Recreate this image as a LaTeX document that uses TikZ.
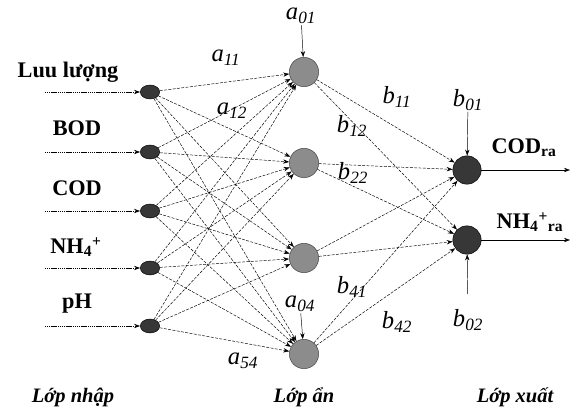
\documentclass[tikz,border=0pt]{standalone}
\usepackage{fontspec}
\setmainfont{Liberation Serif}
\usepackage{xcolor}
\usetikzlibrary{arrows.meta,positioning,shapes.geometric}
\definecolor{nodegrey}{RGB}{140,140,140}
\definecolor{nodedark}{RGB}{55,55,55}
\newcommand{\wt}[2]{\textit{#1}\textsubscript{\textit{#2}}}

\begin{document}
\begin{tikzpicture}[x=0.03cm,y=-0.03cm,>={Stealth[length=1.8mm,width=1.3mm]},font=\fontsize{16}{18}\selectfont]
  \useasboundingbox (0,0) rectangle (571,414);
  \tikzset{
    innode/.style={ellipse,fill=nodedark,draw=black,minimum width=0.58cm,minimum height=0.42cm,inner sep=0pt},
    hidnode/.style={circle,fill=nodegrey,draw=black!75,minimum size=0.88cm,inner sep=0pt},
    outnode/.style={circle,fill=nodedark,draw=black,minimum size=0.85cm,inner sep=0pt},
    link/.style={->,dash pattern=on 2.5pt off 1.2pt,thin},
    feed/.style={->,dash pattern=on 1pt off 0.6pt,semithick},
    lab/.style={font=\fontsize{19}{21}\selectfont\bfseries},
    wlab/.style={font=\fontsize{21}{23}\selectfont\itshape,inner sep=1pt},
    layer/.style={font=\fontsize{17.5}{20}\selectfont\bfseries\itshape}
  }
  % input layer
  \foreach \y [count=\i] in {92,152,211,268,326} {
    \node[innode] (i\i) at (150,\y) {};
    \coordinate (s\i) at (45,\y);
    \draw[feed] (s\i) -- (i\i);
  }
  \node[lab] (l1) at (68,72) {Luu lượng};
  \node[lab] (l2) at (77,128) {BOD};
  \node[lab] (l3) at (77,188) {COD};
  \node[lab] (l4) at (76,247) {NH\textsubscript{4}\textsuperscript{+}};
  \node[lab] (l5) at (77,304) {pH};
  % hidden layer
  \foreach \y [count=\j] in {72,163,258,354}
    \node[hidnode] (h\j) at (304,\y) {};
  % output layer
  \node[outnode] (o1) at (467,170) {};
  \node[outnode] (o2) at (467,240) {};
  \coordinate (e1) at (570,170);
  \coordinate (e2) at (570,240);
  \draw[->] (o1) -- (e1);
  \draw[->] (o2) -- (e2);
  \node[lab] (r1) at (524,148) {COD\textsubscript{ra}};
  \node[lab] (r2) at (530,222) {NH\textsubscript{4}\textsuperscript{+}\textsubscript{ra}};
  % links
  \foreach \i in {1,...,5}
    \foreach \j in {1,...,4}
      \draw[link] (i\i) -- (h\j);
  \foreach \j in {1,...,4}
    \foreach \k in {1,2}
      \draw[link] (h\j) -- (o\k);
  % biases
  \node[wlab] (a01) at (301,16) {\wt{a}{01}};
  \node[wlab] (a04) at (300,304) {\wt{a}{04}};
  \node[wlab] (b01) at (468,100) {\wt{b}{01}};
  \node[wlab] (b02) at (468,320) {\wt{b}{02}};
  \draw[->] (a01) -- (h1);
  \draw[->] (a04) -- (h4);
  \draw[->] (b01) -- (o1);
  \draw[->,shorten <=12pt] (b02) -- (o2);
  % weights
  \node[wlab] (a11) at (226,58) {\wt{a}{11}};
  \node[wlab] (a12) at (232,111) {\wt{a}{12}};
  \node[wlab] (a54) at (243,361) {\wt{a}{54}};
  \node[wlab] (b11) at (397,97) {\wt{b}{11}};
  \node[wlab] (b12) at (352,126) {\wt{b}{12}};
  \node[wlab] (b22) at (353,173) {\wt{b}{22}};
  \node[wlab] (b41) at (352,287) {\wt{b}{41}};
  \node[wlab] (b42) at (397,322) {\wt{b}{42}};
  % layer names
  \node[layer] (n1) at (73,397) {Lớp nhập};
  \node[layer] (n2) at (304,397) {Lớp ẩn};
  \node[layer] (n3) at (515,397) {Lớp xuất};
\end{tikzpicture}
\end{document}
